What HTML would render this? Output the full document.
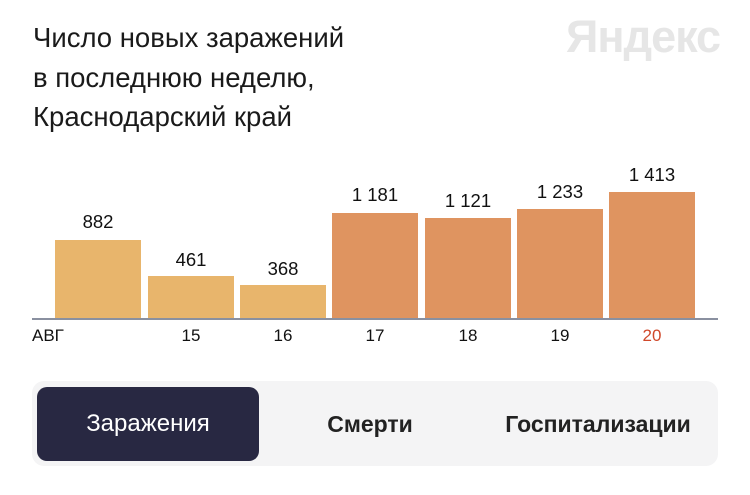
<!DOCTYPE html>
<html><head><meta charset="utf-8"><style>
body{margin:0;width:750px;height:495px;background:#fff;font-family:"Liberation Sans","DejaVu Sans",sans-serif;position:relative;overflow:hidden;color:#111}
.t{position:absolute;left:33px;top:18px;font-size:27.5px;line-height:39.5px;color:#1a1a1a;white-space:nowrap}
.logo{position:absolute;left:566px;top:11px;font-size:45px;font-weight:bold;color:#e6e6e6;letter-spacing:-1px}
.bar{position:absolute;width:86px}
.v{position:absolute;width:86px;text-align:center;font-size:18.5px}
.x{position:absolute;top:326px;font-size:17px;width:86px;text-align:center}
.axis{position:absolute;left:32px;top:318px;width:686px;height:2px;background:#8a90a0}
.box{position:absolute;left:32px;top:381px;width:686px;height:85px;background:#f4f4f5;border-radius:12px}
.btn{position:absolute;left:37px;top:387px;width:222px;height:74px;background:#282842;border-radius:10px;color:#fff;font-size:24px;text-align:center;line-height:74px}
.tab{position:absolute;top:387px;height:74px;line-height:74px;font-size:23px;font-weight:bold;color:#222;text-align:center;white-space:nowrap}
</style></head><body>
<div class="t">Число новых заражений<br>в последнюю неделю,<br>Краснодарский край</div>
<div class="logo">Яндекс</div>
<div class="bar" style="left:55px;top:240px;height:79px;background:#e8b56c"></div>
<div class="bar" style="left:148px;top:276px;height:43px;background:#e8b56c"></div>
<div class="bar" style="left:240px;top:285px;height:34px;background:#e8b56c"></div>
<div class="bar" style="left:332px;top:213px;height:106px;background:#df9460"></div>
<div class="bar" style="left:425px;top:218px;height:101px;background:#df9460"></div>
<div class="bar" style="left:517px;top:209px;height:110px;background:#df9460"></div>
<div class="bar" style="left:609px;top:192px;height:127px;background:#df9460"></div>
<div class="v" style="left:55px;top:211px">882</div>
<div class="v" style="left:148px;top:249px">461</div>
<div class="v" style="left:240px;top:258px">368</div>
<div class="v" style="left:332px;top:184px">1 181</div>
<div class="v" style="left:425px;top:190px">1 121</div>
<div class="v" style="left:517px;top:181px">1 233</div>
<div class="v" style="left:609px;top:164px">1 413</div>
<div class="axis"></div>
<div class="x" style="left:32px;width:auto">АВГ</div>
<div class="x" style="left:148px">15</div>
<div class="x" style="left:240px">16</div>
<div class="x" style="left:332px">17</div>
<div class="x" style="left:425px">18</div>
<div class="x" style="left:517px">19</div>
<div class="x" style="left:609px;color:#d0482a">20</div>
<div class="box"></div>
<div class="btn">Заражения</div>
<div class="tab" style="left:300px;width:140px">Смерти</div>
<div class="tab" style="left:490px;width:216px">Госпитализации</div>
</body></html>
